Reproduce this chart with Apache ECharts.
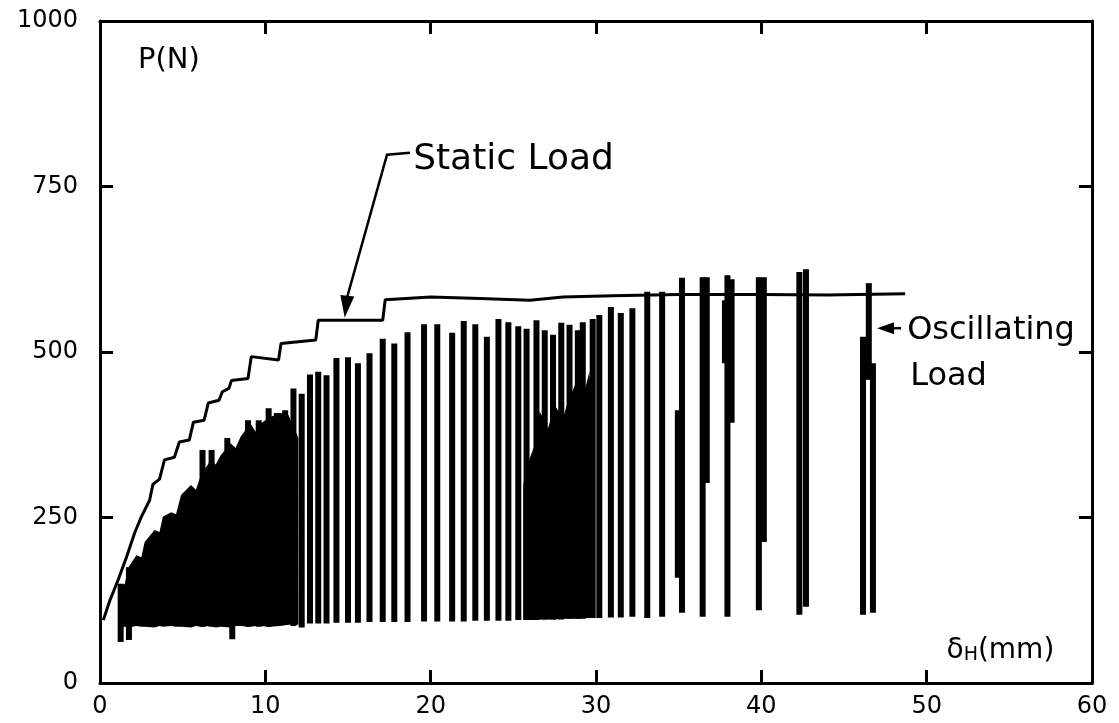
<!DOCTYPE html>
<html>
<head>
<meta charset="utf-8">
<title>Static and oscillating load vs. horizontal displacement</title>
<script src="https://cdn.jsdelivr.net/npm/echarts@6/dist/echarts.min.js"></script>
<style>
  html, body { margin: 0; padding: 0; background: #fff; }
  #chart { width: 1119px; height: 723px; }
</style>
</head>
<body>
<div id="chart"></div>
<script>
// Axis ticks: displacement δH (mm) and load P (N)
const xTicks = [0, 10, 20, 30, 40, 50, 60];
const yTicks = [0, 250, 500, 750, 1000];

// Static load curve (stepped rise, then a plateau near 585 N)
const staticX = [0.2, 0.6, 1.1, 1.6, 2.1, 2.5, 3.0, 3.2, 3.6, 3.9, 4.5, 4.8, 5.4, 5.65, 6.3, 6.55, 7.2, 7.4, 7.8, 7.95, 8.95, 9.15, 10.8, 10.95, 13.05, 13.2, 17.1, 17.25, 20.0, 23.0, 26.0, 28.0, 31.0, 35.0, 40.0, 44.0, 48.7];
const staticY = [95, 125, 156, 190, 227, 251, 276, 300, 308, 337, 341, 364, 367, 394, 397, 423, 427, 440, 445, 457, 460, 493, 488, 513, 518, 548, 548, 579, 583, 581, 578, 583, 585, 587, 587, 586, 588];

// Dense oscillation band at small displacement: upper and lower edges
const bandX      = [1.1, 1.5, 1.7, 2.2, 2.5, 2.7, 3.3, 3.6, 3.8, 4.3, 4.6, 4.9, 5.5, 5.8, 6.1, 6.7, 7.0, 7.3, 7.9, 8.2, 8.5, 9.1, 9.4, 9.7, 10.3, 10.9, 11.4, 12.0];
const bandTop    = [143, 150, 174, 193, 190, 213, 231, 228, 251, 258, 255, 284, 299, 292, 314, 337, 330, 344, 362, 355, 372, 392, 380, 392, 402, 408, 405, 370];
const bandBottom = [86, 85, 84, 86, 85, 85, 84, 86, 85, 86, 85, 85, 84, 86, 85, 86, 84, 85, 84, 86, 86, 85, 86, 86, 85, 86, 88, 88];

// Overlapping cycles between 25.6 and 29.8 mm
const clusterX      = [25.6, 26.0, 26.3, 26.6, 27.1, 27.5, 28.0, 28.3, 28.9, 29.3, 29.6, 29.8];
const clusterTop    = [300, 340, 360, 410, 385, 420, 400, 425, 460, 440, 470, 400];
const clusterBottom = [95, 95, 95, 96, 96, 96, 97, 97, 97, 98, 98, 98];

// Individual oscillation strokes: displacement, minimum load, peak load
const strokeX   = [1.25, 1.75, 6.2, 6.75, 7.7, 8.0, 8.95, 9.6, 10.2, 10.7, 11.2, 11.7, 12.2, 12.7, 13.2, 13.7, 14.3, 15.0, 15.6, 16.3, 17.1, 17.8, 18.6, 19.6, 20.4, 21.3, 22.0, 22.7, 23.4, 24.1, 24.7, 25.3, 25.8, 26.4, 26.9, 27.4, 27.9, 28.4, 28.9, 29.2, 29.8, 30.2, 30.9, 31.5, 32.2, 33.1, 34.0, 34.95, 35.2, 36.45, 36.7, 37.8, 37.95, 38.2, 39.85, 40.15, 42.3, 42.7, 46.15, 46.5, 46.75];
const strokeMin = [62, 65, 85, 85, 85, 66, 85, 85, 85, 88, 88, 86, 84, 90, 90, 90, 91, 91, 91, 92, 92, 92, 92, 93, 93, 93, 93, 94, 94, 94, 94, 95, 95, 95, 96, 96, 96, 97, 97, 97, 98, 98, 99, 99, 100, 98, 100, 159, 106, 100, 302, 483, 100, 393, 110, 213, 103, 115, 103, 458, 106];
const strokeMax = [150, 175, 352, 352, 370, 300, 397, 397, 415, 408, 412, 445, 437, 466, 470, 465, 491, 492, 483, 498, 520, 513, 530, 542, 542, 529, 547, 542, 523, 550, 545, 539, 535, 548, 533, 526, 544, 541, 533, 545, 550, 556, 568, 559, 566, 591, 591, 412, 612, 613, 613, 578, 616, 610, 613, 613, 621, 625, 523, 604, 483];

const FONT = '"DejaVu Sans", "Liberation Sans", sans-serif';
const INK = '#000';

const chart = echarts.init(document.getElementById('chart'), null, { renderer: 'canvas' });

function filledBand(xs, tops, bottoms, api) {
  const pts = [];
  for (let i = 0; i < xs.length; i++) pts.push(api.coord([xs[i], tops[i]]));
  for (let i = xs.length - 1; i >= 0; i--) pts.push(api.coord([xs[i], bottoms[i]]));
  return { type: 'polygon', shape: { points: pts }, style: { fill: INK } };
}

function arrowHead(tip, from, len, half) {
  const dx = tip[0] - from[0], dy = tip[1] - from[1];
  const d = Math.hypot(dx, dy) || 1;
  const ux = dx / d, uy = dy / d;
  const bx = tip[0] - ux * len, by = tip[1] - uy * len;
  return {
    type: 'polygon',
    shape: { points: [tip, [bx - uy * half, by + ux * half], [bx + uy * half, by - ux * half]] },
    style: { fill: INK }
  };
}

const xRange = { min: xTicks[0], max: xTicks[xTicks.length - 1], interval: xTicks[1] - xTicks[0] };
const yRange = { min: yTicks[0], max: yTicks[yTicks.length - 1], interval: yTicks[1] - yTicks[0] };

const axisLine = { show: true, onZero: false, lineStyle: { color: INK, width: 3 } };
const axisTick = { show: true, inside: true, length: 13, lineStyle: { color: INK, width: 3 } };
const plainNumber = v => String(v);

const option = {
  backgroundColor: '#fff',
  animation: false,
  grid: { left: 100, right: 27, top: 21, bottom: 40, containLabel: false },
  xAxis: [
    Object.assign({ type: 'value', position: 'bottom', axisLine, axisTick, splitLine: { show: false },
      axisLabel: { color: INK, fontSize: 24, fontFamily: FONT, margin: 12, formatter: plainNumber } }, xRange),
    Object.assign({ type: 'value', position: 'top', axisLine, axisTick, splitLine: { show: false },
      axisLabel: { show: false } }, xRange)
  ],
  yAxis: [
    Object.assign({ type: 'value', position: 'left', axisLine, axisTick, splitLine: { show: false },
      axisLabel: { color: INK, fontSize: 24, fontFamily: FONT, margin: 22, formatter: plainNumber } }, yRange),
    Object.assign({ type: 'value', position: 'right', axisLine, axisTick, splitLine: { show: false },
      axisLabel: { show: false } }, yRange)
  ],
  series: [
    {
      name: 'Oscillating band',
      type: 'custom',
      xAxisIndex: 0, yAxisIndex: 0,
      clip: true,
      data: [[bandX[0], bandTop[0]]],
      renderItem: function (params, api) {
        return {
          type: 'group',
          children: [
            filledBand(bandX, bandTop, bandBottom, api),
            filledBand(clusterX, clusterTop, clusterBottom, api)
          ]
        };
      }
    },
    {
      name: 'Oscillating Load',
      type: 'custom',
      xAxisIndex: 0, yAxisIndex: 0,
      clip: true,
      encode: { x: 0, y: [1, 2] },
      data: strokeX.map((x, i) => [x, strokeMin[i], strokeMax[i]]),
      renderItem: function (params, api) {
        const p0 = api.coord([api.value(0), api.value(1)]);
        const p1 = api.coord([api.value(0), api.value(2)]);
        return {
          type: 'line',
          shape: { x1: p0[0], y1: p0[1], x2: p1[0], y2: p1[1] },
          style: { stroke: INK, lineWidth: 6, lineCap: 'butt' }
        };
      }
    },
    {
      name: 'Static Load',
      type: 'line',
      xAxisIndex: 0, yAxisIndex: 0,
      data: staticX.map((x, i) => [x, staticY[i]]),
      showSymbol: false,
      symbol: 'none',
      lineStyle: { color: INK, width: 3 },
      z: 3
    },
    {
      name: 'Annotations',
      type: 'custom',
      xAxisIndex: 0, yAxisIndex: 0,
      clip: false,
      silent: true,
      z: 4,
      data: [[0, 0]],
      renderItem: function (params, api) {
        // "Static Load" leader with arrow onto the plateau step
        const s0 = api.coord([18.75, 801]);
        const s1 = api.coord([17.36, 798]);
        const s2 = api.coord([14.95, 583]);
        const sTip = api.coord([14.8, 552]);
        // "Oscillating Load" leader pointing at the last stroke
        const o0 = api.coord([48.45, 536]);
        const oTip = api.coord([47.0, 536]);
        const txt = (pos, text, size) => ({
          type: 'text',
          x: pos[0], y: pos[1],
          style: { text, fill: INK, font: size + 'px ' + FONT, textAlign: 'left', textVerticalAlign: 'middle' }
        });
        const unitPos = api.coord([51.2, 54]);
        return {
          type: 'group',
          children: [
            { type: 'polyline', shape: { points: [s0, s1, s2] }, style: { stroke: INK, lineWidth: 2.5, fill: null } },
            arrowHead(sTip, s2, 22, 7),
            { type: 'line', shape: { x1: o0[0], y1: o0[1], x2: oTip[0] + 10, y2: oTip[1] }, style: { stroke: INK, lineWidth: 2.5 } },
            arrowHead(oTip, o0, 17, 6),
            txt(api.coord([18.94, 790]), 'Static Load', 36),
            txt(api.coord([48.82, 532]), 'Oscillating', 32),
            txt(api.coord([49.0, 462]), 'Load', 32),
            txt(api.coord([2.3, 940]), 'P(N)', 29),
            {
              type: 'text',
              x: unitPos[0], y: unitPos[1],
              style: {
                text: '{a|δ}{b|H}{a|(mm)}',
                textAlign: 'left', textVerticalAlign: 'middle',
                rich: {
                  a: { fontSize: 28, fontFamily: FONT, color: INK, verticalAlign: 'bottom', lineHeight: 34 },
                  b: { fontSize: 19, fontFamily: FONT, color: INK, verticalAlign: 'bottom', lineHeight: 26 }
                }
              }
            }
          ]
        };
      }
    }
  ]
};

chart.setOption(option);
</script>
</body>
</html>
